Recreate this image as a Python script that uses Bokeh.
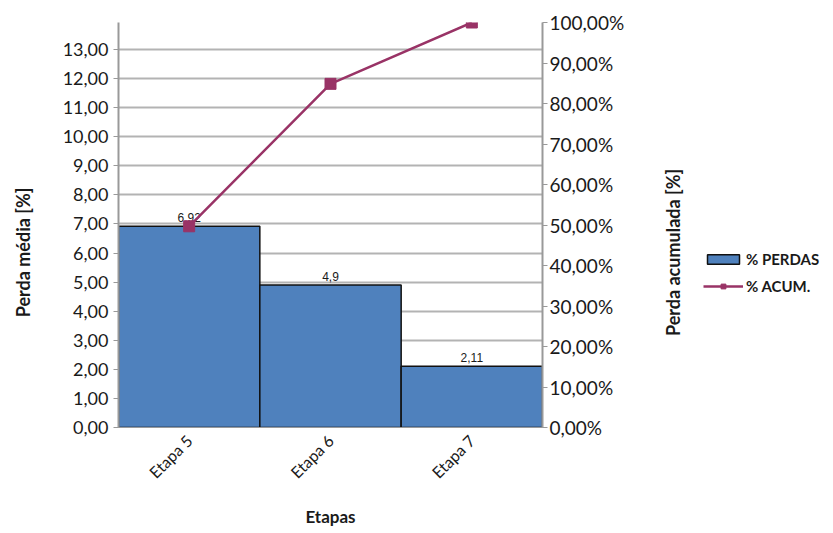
from math import pi
from bokeh.plotting import figure
from bokeh.layouts import row
from bokeh.models import (FactorRange, Range1d, LinearAxis, FixedTicker, Legend, LegendItem,
                          ColumnDataSource, Label)
from bokeh.core.properties import value
from bokeh.embed import file_html
from bokeh.resources import INLINE

# ---- data ----
etapas = ["Etapa 5", "Etapa 6", "Etapa 7"]
perdas = [6.92, 4.9, 2.11]
perdas_labels = ["6,92", "4,9", "2,11"]
acum_pct = [49.68, 84.85, 100.0]
left_ticks = list(range(0, 14))
right_ticks = list(range(0, 101, 10))

total = sum(perdas)

src = ColumnDataSource(dict(x=etapas, y=perdas, lab=perdas_labels, acum=acum_pct))

FONT = "Lato"
TXT = "#1a1a1a"
BAR = "#4F81BD"
LINE = "#993366"

LEFT_W = 45

p = figure(frame_width=424, frame_height=405, x_range=FactorRange(factors=etapas, range_padding=0),
           y_range=Range1d(0, total), output_backend="svg", toolbar_location=None,
           min_border_left=118 - LEFT_W, min_border_right=121, min_border_top=22,
           min_border_bottom=106)
p.extra_y_ranges = {"pct": Range1d(0, 100)}
p.outline_line_color = None
p.background_fill_color = "white"
p.border_fill_color = "white"

# grid
p.xgrid.visible = False
p.ygrid.ticker = FixedTicker(ticks=left_ticks)
p.ygrid.grid_line_color = "#b3b3b3"
p.ygrid.grid_line_width = 2

# bars
bars = p.vbar(x="x", top="y", width=1.0, source=src, fill_color=BAR,
              line_color="#111111", line_width=1.5)

# data labels
p.text(x="x", y="y", text="lab", source=src, text_align="center", text_baseline="bottom",
       y_offset=-4, text_font=value("Liberation Sans"), text_font_size="12px", text_color=TXT)

# cumulative line
ln = p.line(x="x", y="acum", source=src, y_range_name="pct", line_color=LINE, line_width=2.5)
mk = p.scatter(x="x", y="acum", source=src, y_range_name="pct", marker="square", size=11,
               fill_color=LINE, line_color=LINE)

# left axis
ya = p.yaxis[0]
ya.ticker = FixedTicker(ticks=left_ticks)
ya.major_label_overrides = {t: f"{t},00" for t in left_ticks}
ya.major_label_text_font = FONT
ya.major_label_text_font_size = "18px"
ya.major_label_text_color = TXT
ya.axis_line_color = "#999999"
ya.axis_line_width = 2
ya.major_tick_line_color = "#999999"
ya.major_tick_in = 0
ya.major_tick_out = 5
ya.minor_tick_line_color = None

# right axis
ra = LinearAxis(y_range_name="pct", ticker=FixedTicker(ticks=right_ticks))
ra.major_label_overrides = {t: f"{t},00%" for t in right_ticks}
ra.major_label_text_font = FONT
ra.major_label_text_font_size = "19px"
ra.major_label_text_color = TXT
ra.major_label_standoff = 2
ra.axis_line_color = "#999999"
ra.axis_line_width = 2
ra.major_tick_line_color = "#999999"
ra.major_tick_in = 0
ra.major_tick_out = 5
ra.minor_tick_line_color = None
p.add_layout(ra, "right")

# bottom axis
xa = p.xaxis[0]
xa.major_label_orientation = pi / 4
xa.major_label_text_font = FONT
xa.major_label_text_font_size = "16px"
xa.major_label_text_color = TXT
xa.major_label_standoff = 4
xa.axis_label = "Etapas"
xa.axis_label_text_font = FONT
xa.axis_label_text_font_style = "bold"
xa.axis_label_text_font_size = "17px"
xa.axis_label_text_color = TXT
xa.axis_label_standoff = 15
xa.axis_line_color = "#999999"
xa.major_tick_line_color = None
xa.minor_tick_line_color = None

# ---- left side panel: left axis title ----
lf = figure(width=LEFT_W, height=533, x_range=Range1d(0, 1), y_range=Range1d(0, 1),
            x_axis_type=None, y_axis_type=None, output_backend="svg", toolbar_location=None,
            min_border_left=0, min_border_right=0, min_border_top=0, min_border_bottom=0)
lf.outline_line_color = None
lf.xgrid.visible = False
lf.ygrid.visible = False
lf.border_fill_color = "white"
lf.background_fill_color = "white"
lf.add_layout(Label(x=22, y=427 - 252, x_units="screen", y_units="screen", angle=pi / 2,
                    text="Perda média [%]", text_align="center", text_baseline="middle",
                    text_font=FONT, text_font_style="bold", text_font_size="18px",
                    text_color=TXT))

# ---- right side panel: right axis title + legend ----
SIDE_W = 833 - (118 + 424 + 121)
s = figure(width=SIDE_W, height=533, x_range=FactorRange(factors=etapas),
           y_range=Range1d(1000, 1100), x_axis_type=None, y_axis_type=None,
           output_backend="svg", toolbar_location=None,
           min_border_left=0, min_border_right=0, min_border_top=0, min_border_bottom=0)
s.outline_line_color = None
s.xgrid.visible = False
s.ygrid.visible = False
s.border_fill_color = "white"
s.background_fill_color = "white"

sb = s.vbar(x="x", top="y", width=1.0, source=src, fill_color=BAR,
            line_color="#111111", line_width=1.5, visible=False)
sl = s.line(x="x", y="acum", source=src, line_color=LINE, line_width=2.5, visible=False)
sm = s.scatter(x="x", y="acum", source=src, marker="square", size=11,
               fill_color=LINE, line_color=LINE, visible=False)

# frame of the side panel is aligned with the main frame (y from 22 to 427)
s.add_layout(Label(x=9, y=427 - 252, x_units="screen", y_units="screen", angle=pi / 2,
                   text="Perda acumulada [%]", text_align="center", text_baseline="middle",
                   text_font=FONT, text_font_style="bold", text_font_size="18px",
                   text_color=TXT))

legend = Legend(items=[LegendItem(label="% PERDAS", renderers=[sb]),
                       LegendItem(label="% ACUM.", renderers=[sl, sm])],
                location=(40, 427 - 295),
                label_text_font=FONT, label_text_font_style="bold", label_text_font_size="15px",
                label_text_color=TXT, glyph_width=40, glyph_height=12, spacing=9,
                label_height=18, inactive_fill_alpha=0,
                border_line_color=None, background_fill_alpha=0, padding=0, margin=0,
                label_standoff=3)
s.add_layout(legend, "center")

layout = row(lf, p, s, spacing=0)
open("out.html", "w").write(file_html(layout, INLINE))
